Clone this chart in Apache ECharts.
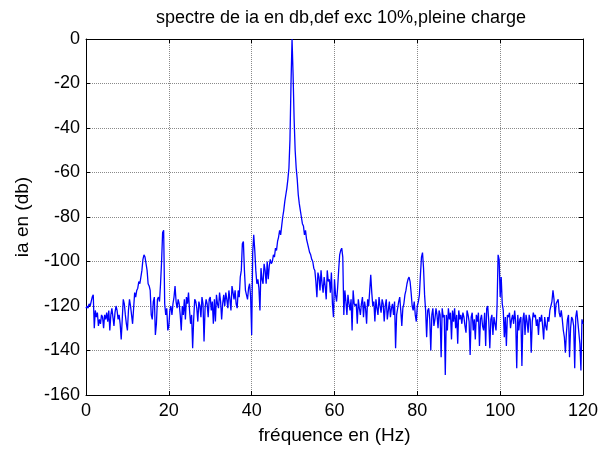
<!DOCTYPE html>
<html>
<head>
<meta charset="utf-8">
<script src="https://cdn.jsdelivr.net/npm/echarts@6/dist/echarts.min.js"></script>
<style>html,body{margin:0;padding:0;background:#fff;}#c{width:611px;height:450px;}</style>
</head>
<body>
<div id="c"></div>
<script>
// Spectrum of ia (dB), frequency step 0.25 Hz
const freqStep = 0.25;
const xTicks = [0, 20, 40, 60, 80, 100, 120];
const yTicks = [-160, -140, -120, -100, -80, -60, -40, -20, 0];
// 0 – 19.75 Hz
const db0to20 = [
 -121,-120,-121,-119,-120,-118,-116,-115,-130,-122,-125,-123,-129,-126,-128,-124,-125,-130,-124,-126,
 -123,-127,-122,-131,-124,-121,-125,-129,-123,-120,-122,-126,-124,-128,-135,-126,-117,-119,-124,-128,
 -131,-122,-117,-120,-124,-128,-121,-114,-116,-113,-112,-109,-110,-107,-104,-99,-97,-98,-101,-104,
 -110,-111,-113,-124,-126,-118,-116,-133,-128,-117,-116,-118,-110,-100,-87,-86,-119,-124,-121,-131
];
// 20 – 39.75 Hz
const db20to40 = [
 -129,-122,-120,-124,-119,-116,-111,-118,-121,-117,-119,-124,-131,-120,-124,-117,-126,-116,-119,-114,
 -122,-128,-124,-139,-126,-117,-118,-121,-127,-118,-120,-125,-116,-119,-136,-121,-117,-119,-125,-117,
 -116,-122,-118,-128,-117,-127,-115,-119,-121,-114,-118,-126,-119,-115,-120,-114,-117,-121,-113,-117,
 -122,-111,-114,-117,-113,-119,-121,-113,-116,-107,-104,-92,-91,-104,-113,-115,-117,-112,-110,-116
];
// 40 – 59.75 Hz
const db40to60 = [
 -133,-96,-88,-95,-104,-110,-108,-112,-122,-103,-108,-110,-101,-104,-110,-100,-108,-102,-99,-101,
 -100,-97,-98,-94,-95,-91,-89,-86,-88,-84,-80,-77,-73,-70,-67,-63,-58,-45,-20,0,
 -16,-36,-50,-58,-63,-70,-74,-77,-80,-83,-84,-88,-86,-90,-92,-94,-96,-97,-99,-100,
 -103,-104,-109,-116,-105,-107,-113,-104,-110,-114,-107,-111,-117,-104,-109,-108,-114,-105,-119,-125
];
// 60 – 79.75 Hz
const db60to80 = [
 -108,-115,-118,-112,-104,-97,-95,-94,-98,-124,-113,-118,-124,-115,-119,-122,-117,-131,-113,-119,
 -120,-119,-128,-117,-121,-124,-119,-116,-125,-118,-121,-128,-117,-120,-113,-106,-114,-120,-118,-127,
 -117,-121,-124,-116,-120,-123,-117,-119,-127,-120,-117,-126,-122,-118,-125,-121,-119,-124,-118,-139,
 -124,-121,-118,-116,-122,-129,-121,-119,-115,-113,-110,-108,-107,-109,-114,-120,-122,-118,-124,-127
];
// 80 – 99.75 Hz
const db80to100 = [
 -120,-118,-115,-106,-98,-96,-103,-115,-122,-134,-122,-121,-126,-140,-124,-121,-129,-126,-121,-124,
 -130,-122,-124,-143,-121,-125,-124,-151,-124,-131,-121,-126,-123,-135,-122,-127,-121,-130,-124,-137,
 -122,-126,-124,-128,-123,-125,-129,-132,-122,-124,-127,-142,-125,-123,-131,-126,-135,-124,-127,-123,
 -138,-126,-124,-129,-131,-123,-138,-121,-120,-127,-139,-126,-124,-133,-125,-128,-131,-120,-97,-99
];
// 100 – 120 Hz
const db100to120 = [
 -116,-107,-119,-122,-134,-125,-138,-124,-125,-123,-130,-126,-124,-128,-122,-127,-148,-124,-131,-126,
 -125,-147,-126,-123,-133,-124,-127,-132,-124,-126,-141,-127,-123,-125,-124,-129,-126,-133,-125,-127,
 -124,-129,-135,-125,-129,-131,-125,-127,-122,-120,-118,-113,-117,-125,-119,-118,-117,-123,-125,-122,
 -126,-131,-134,-141,-132,-126,-124,-143,-130,-125,-126,-129,-148,-125,-122,-127,-132,-137,-149,-126,
 -128
];

const allDb = [].concat(db0to20, db20to40, db40to60, db60to80, db80to100, db100to120);
const seriesData = allDb.map((v, i) => [i * freqStep, v]);

const font = 'Liberation Sans, Arial, sans-serif';
const chart = echarts.init(document.getElementById('c'), null, {renderer: 'canvas'});
const frameAxis = {
  axisLine: {show: true, onZero: false, lineStyle: {color: '#000', width: 1}},
  axisTick: {show: true, inside: true, length: 4, lineStyle: {color: '#000'}},
  axisLabel: {show: false},
  splitLine: {show: false}
};
chart.setOption({
  animation: false,
  backgroundColor: '#fff',
  title: {
    text: 'spectre de ia en db,def exc 10%,pleine charge',
    left: 336, top: 4, textAlign: 'center',
    textStyle: {fontFamily: font, fontSize: 18, fontWeight: 'normal', color: '#000'}
  },
  grid: {left: 86, right: 28, top: 39, bottom: 54, containLabel: false},
  xAxis: [{
    type: 'value', min: xTicks[0], max: xTicks[xTicks.length - 1], interval: 20,
    position: 'bottom',
    name: 'fréquence en (Hz)', nameLocation: 'middle', nameGap: 31,
    nameTextStyle: {fontFamily: font, fontSize: 19, color: '#000'},
    axisLine: {show: true, onZero: false, lineStyle: {color: '#000', width: 1}},
    axisTick: {show: true, inside: true, length: 4, lineStyle: {color: '#000'}},
    axisLabel: {show: true, margin: 7, fontFamily: font, fontSize: 18, color: '#000'},
    splitLine: {show: true, lineStyle: {color: '#8a8a8a', type: 'dotted', width: 1}}
  }, Object.assign({type: 'value', min: 0, max: 120, interval: 20, position: 'top'}, frameAxis)],
  yAxis: [{
    type: 'value', min: yTicks[0], max: yTicks[yTicks.length - 1], interval: 20,
    position: 'left',
    name: 'ia en (db)', nameLocation: 'middle', nameGap: 54,
    nameTextStyle: {fontFamily: font, fontSize: 19, color: '#000'},
    axisLine: {show: true, onZero: false, lineStyle: {color: '#000', width: 1}},
    axisTick: {show: true, inside: true, length: 4, lineStyle: {color: '#000'}},
    axisLabel: {show: true, margin: 6, fontFamily: font, fontSize: 18, color: '#000'},
    splitLine: {show: true, lineStyle: {color: '#8a8a8a', type: 'dotted', width: 1}}
  }, Object.assign({type: 'value', min: -160, max: 0, interval: 20, position: 'right'}, frameAxis)],
  series: [{
    type: 'line', data: seriesData, xAxisIndex: 0, yAxisIndex: 0,
    showSymbol: false, symbol: 'none',
    lineStyle: {color: '#0000ff', width: 1.3},
    clip: true
  }]
});
</script>
</body>
</html>
